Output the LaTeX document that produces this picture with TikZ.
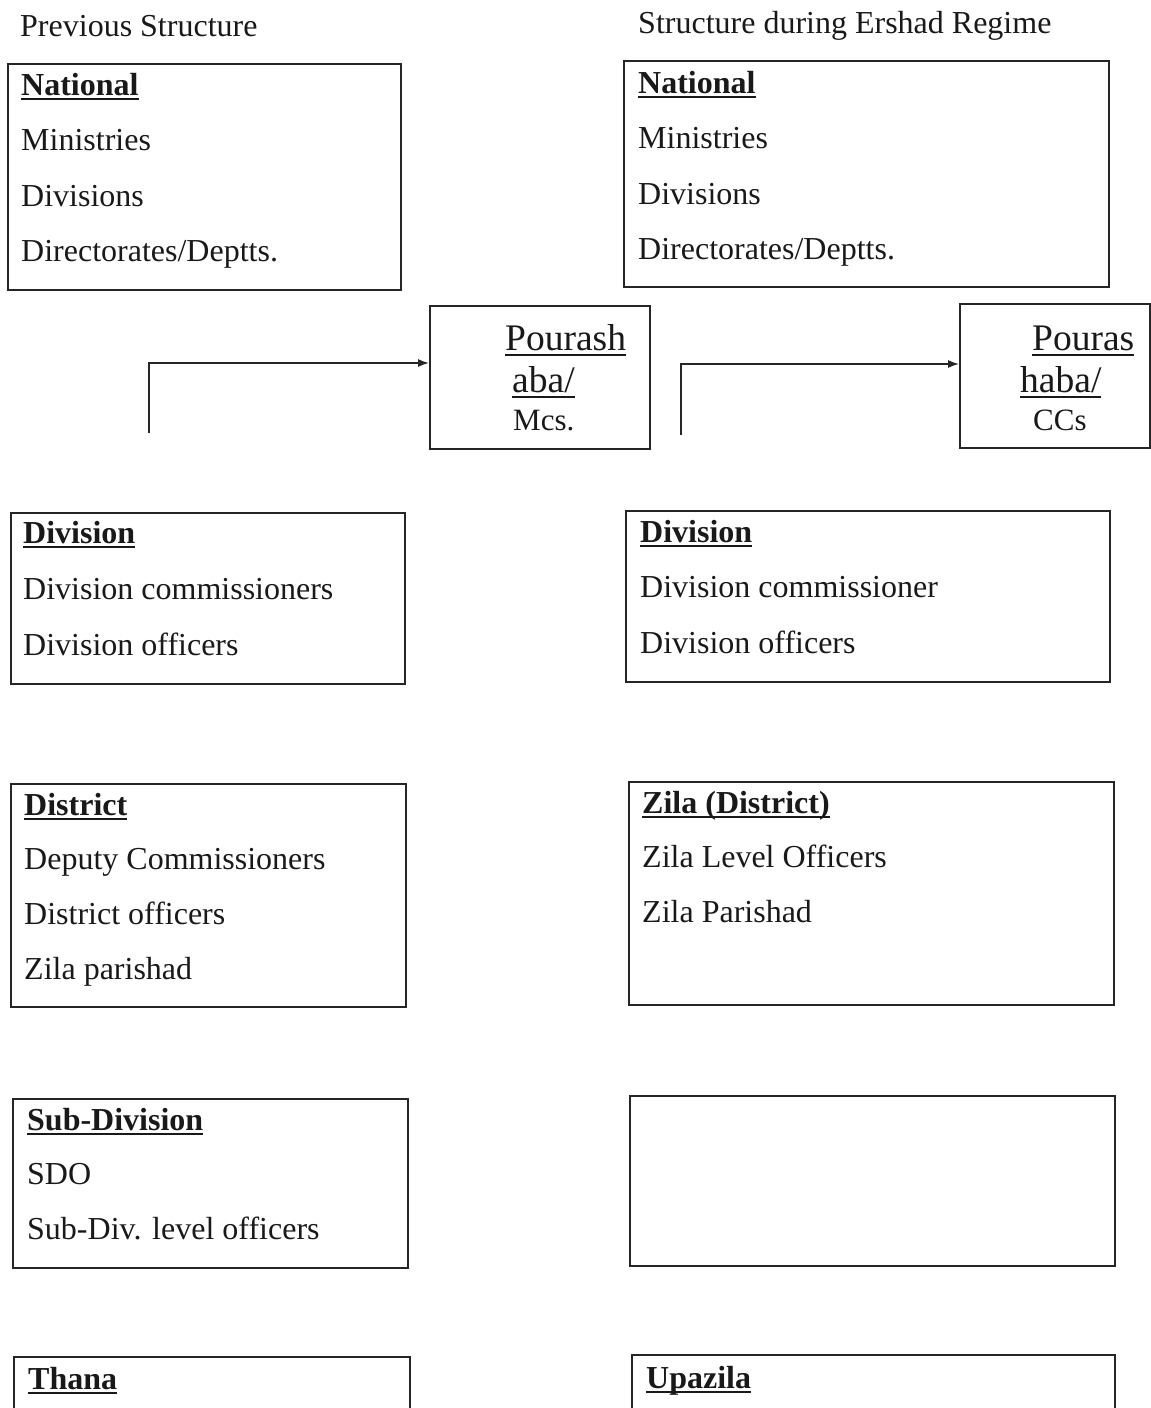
\documentclass[tikz,border=0pt]{standalone}
\usepackage{fontspec}
\setmainfont{Liberation Serif}
\usetikzlibrary{arrows.meta}
% underline drawn as a thin rule just below the baseline
\newcommand\undl[1]{\setbox0\hbox{#1}\leavevmode\rlap{\vrule height -0.1em depth 0.16em width \wd0}\box0}
\begin{document}
\begin{tikzpicture}[x=1pt,y=-1pt,
  box/.style={draw=black!85, line width=1.6pt, anchor=north west, inner sep=0pt},
  lbl/.style={anchor=base west, inner sep=0pt, text=black!90, font=\fontsize{32}{38}\selectfont},
  head/.style={lbl, font=\fontsize{32}{38}\selectfont\bfseries},
  big/.style={anchor=base west, inner sep=0pt, text=black!90, font=\fontsize{37.5}{44}\selectfont},
  conn/.style={draw=black!85, line width=1.4pt, -{Latex[length=11pt,width=8pt]}}]
\useasboundingbox (0,0) rectangle (1151,1408);
\clip (0,0) rectangle (1151,1408);

% column titles
\node[lbl] (titleL) at (20,36) {Previous Structure};
\node[lbl] (titleR) at (638,33) {Structure during Ershad Regime};

% boxes, previous structure
\node[box, minimum width=393pt, minimum height=226pt] (natL) at (7,63) {};
\node[box, minimum width=394pt, minimum height=171pt] (divL) at (10,512) {};
\node[box, minimum width=395pt, minimum height=223pt] (distL) at (10,783) {};
\node[box, minimum width=395pt, minimum height=169pt] (subL) at (12,1098) {};
\node[box, minimum width=396pt, minimum height=150pt] (thanaL) at (13,1356) {};
\node[box, minimum width=220pt, minimum height=143pt] (pourL) at (429,305) {};

% boxes, Ershad regime
\node[box, minimum width=485pt, minimum height=226pt] (natR) at (623,60) {};
\node[box, minimum width=484pt, minimum height=171pt] (divR) at (625,510) {};
\node[box, minimum width=485pt, minimum height=223pt] (zilaR) at (628,781) {};
\node[box, minimum width=485pt, minimum height=170pt] (emptyR) at (629,1095) {};
\node[box, minimum width=483pt, minimum height=150pt] (upaR) at (631,1354) {};
\node[box, minimum width=190pt, minimum height=144pt] (pourR) at (959,303) {};

% national
\node[head] (natLh) at (21,95) {\undl{National}};
\node[lbl] (natL1) at (21,150) {Ministries};
\node[lbl] (natL2) at (21,206) {Divisions};
\node[lbl] (natL3) at (21,261) {Directorates/Deptts.};
\node[head] (natRh) at (638,93) {\undl{National}};
\node[lbl] (natR1) at (638,148) {Ministries};
\node[lbl] (natR2) at (638,204) {Divisions};
\node[lbl] (natR3) at (638,259) {Directorates/Deptts.};

% pourashaba
\node[big] (pourL1) at (505,350) {\undl{Pourash}};
\node[big] (pourL2) at (512,392) {\undl{aba/}};
\node[lbl, font=\fontsize{31}{36}\selectfont] (pourL3) at (513,430) {Mcs.};
\node[big] (pourR1) at (1032,350) {\undl{Pouras}};
\node[big] (pourR2) at (1020,392) {\undl{haba/}};
\node[lbl, font=\fontsize{31}{36}\selectfont] (pourR3) at (1033,430) {CCs};

% division
\node[head] (divLh) at (23,543) {\undl{Division}};
\node[lbl] (divL1) at (23,599) {Division commissioners};
\node[lbl] (divL2) at (23,655) {Division officers};
\node[head] (divRh) at (640,542) {\undl{Division}};
\node[lbl] (divR1) at (640,597) {Division commissioner};
\node[lbl] (divR2) at (640,653) {Division officers};

% district
\node[head] (distLh) at (24,815) {\undl{District}};
\node[lbl] (distL1) at (24,869) {Deputy Commissioners};
\node[lbl] (distL2) at (24,924) {District officers};
\node[lbl] (distL3) at (24,979) {Zila parishad};
\node[head] (zilaRh) at (642,813) {\undl{Zila (District)}};
\node[lbl] (zilaR1) at (642,867) {Zila Level Officers};
\node[lbl] (zilaR2) at (642,922) {Zila Parishad};

% sub-division
\node[head] (subLh) at (27,1130) {\undl{Sub-Division}};
\node[lbl] (subL1) at (27,1184) {SDO};
\node[lbl] (subL2) at (27,1239) {Sub-Div. level officers};

% thana / upazila
\node[head] (thanaLh) at (28,1389) {\undl{Thana}};
\node[head] (upaRh) at (646,1388) {\undl{Upazila}};

% connectors into the pourashaba boxes
\coordinate (srcL) at (149,433);
\coordinate (srcR) at (681,435);
\draw[conn] (srcL) |- ([yshift=-58pt]pourL.north west);
\draw[conn] (srcR) |- ([yshift=-61pt]pourR.north west);
\end{tikzpicture}
\end{document}
